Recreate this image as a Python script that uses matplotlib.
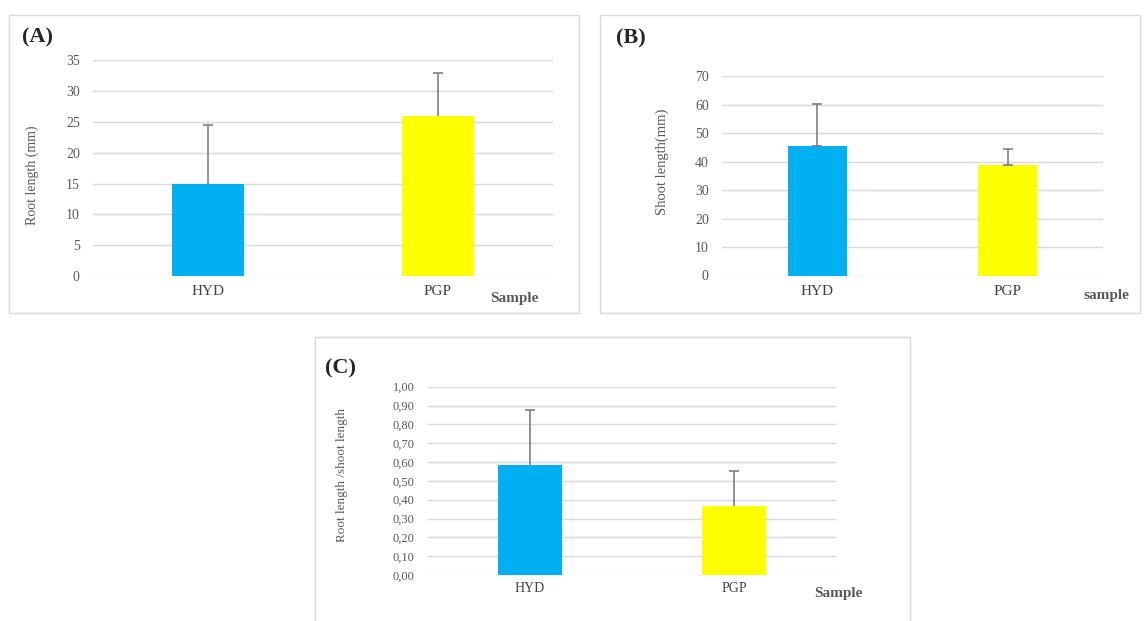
import matplotlib
matplotlib.use("Agg")
import matplotlib.pyplot as plt
from matplotlib.patches import Rectangle
from matplotlib.ticker import FuncFormatter

plt.rcParams["font.family"] = ["Liberation Serif", "DejaVu Serif"]

# data
samples = ["HYD", "PGP"]
root_len = [15.0, 26.0]
root_err = [9.5, 6.9]
shoot_len = [45.4, 38.9]
shoot_err = [15.0, 5.6]
ratio = [0.584, 0.368]
ratio_err = [0.292, 0.184]

W, H = 1147, 621
bar_colors = ["#00B0F0", "#FFFF00"]
grey_txt = "#595959"
grid_col = "#D9D9D9"

fig = plt.figure(figsize=(W / 100, H / 100), dpi=100)


def px_axes(x0, x1, ytop, ybot):
    return fig.add_axes([x0 / W, 1 - ybot / H, (x1 - x0) / W, (ybot - ytop) / H])


def frame(x0, y0, x1, y1):
    fig.patches.append(Rectangle((x0 / W, 1 - y1 / H), (x1 - x0) / W, (y1 - y0) / H,
                                 transform=fig.transFigure, fill=False,
                                 edgecolor=grid_col, lw=1.0))


def fig_text(x, y, s, **kw):
    fig.text(x / W, 1 - y / H, s, **kw)


def bar_panel(ax, vals, errs, ymax, step, fmt, tick_fs, cat_fs, cat_pad, low_cap=False):
    x = range(len(samples))
    ax.bar(x, vals, width=0.31, color=bar_colors, zorder=2)
    _, caps, _ = ax.errorbar(x, vals, yerr=[[0] * len(errs), errs], fmt="none",
                             ecolor="#7F7F7F", elinewidth=1.2, capsize=3.5,
                             capthick=1.2, zorder=3)
    if not low_cap:
        caps[0].set_visible(False)
    ax.set_xlim(-0.5, len(samples) - 0.5)
    ax.set_ylim(0, ymax)
    ticks = [i * step for i in range(int(round(ymax / step)) + 1)]
    ax.set_yticks(ticks)
    ax.yaxis.set_major_formatter(FuncFormatter(fmt))
    ax.set_xticks(list(x), samples)
    ax.grid(axis="y", color=grid_col, lw=1.0, zorder=0)
    for s in ax.spines.values():
        s.set_visible(False)
    ax.tick_params(axis="y", length=0, pad=9.5, labelsize=tick_fs, labelcolor=grey_txt)
    ax.tick_params(axis="x", length=0, pad=cat_pad, labelsize=cat_fs, labelcolor="#404040")
    ax.set_facecolor("none")


# (A) root length
frame(9, 15, 579, 313)
axA = px_axes(93, 553, 60.2, 276.2)
bar_panel(axA, root_len, root_err, 35, 5, lambda v, p: f"{v:.0f}", 10, 11, 6.5)
fig_text(22, 37, "(A)", fontsize=16, fontweight="bold", va="center", color="#262626")
fig_text(32, 175, "Root length (mm)", fontsize=10, rotation=90, ha="center", va="center",
         color=grey_txt)
fig_text(490, 299, "Sample", fontsize=11, fontweight="bold", va="center", color=grey_txt)

# (B) shoot length
frame(600, 15, 1140, 313)
axB = px_axes(722, 1103, 76.2, 275.5)
bar_panel(axB, shoot_len, shoot_err, 70, 10, lambda v, p: f"{v:.0f}", 10, 11, 6.5,
          low_cap=True)
fig_text(616, 38, "(B)", fontsize=16, fontweight="bold", va="center", color="#262626")
fig_text(662, 162, "Shoot length(mm)", fontsize=10.5, rotation=90, ha="center", va="center",
         color=grey_txt)
fig_text(1083, 295, "sample", fontsize=11, fontweight="bold", va="center", color=grey_txt)

# (C) root / shoot ratio
frame(315, 337, 910, 640)
axC = px_axes(428, 836, 386.7, 575)
bar_panel(axC, ratio, ratio_err, 1.0, 0.1, lambda v, p: f"{v:.2f}".replace(".", ","),
          9, 10, 5)
fig_text(325, 368, "(C)", fontsize=16, fontweight="bold", va="center", color="#262626")
fig_text(342, 475, "Root length /shoot length", fontsize=9.5, rotation=90, ha="center",
         va="center", color=grey_txt)
fig_text(814, 593, "Sample", fontsize=11, fontweight="bold", va="center", color=grey_txt)

fig.savefig("out.png", dpi=100, facecolor="white")
